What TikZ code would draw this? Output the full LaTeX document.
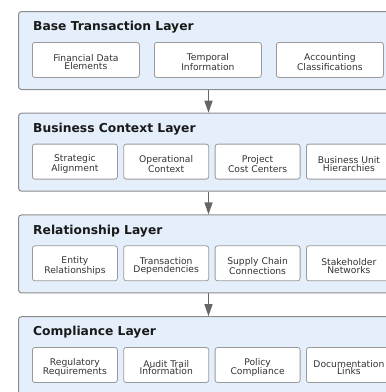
\documentclass[tikz,border=0pt]{standalone}
\usepackage{fontspec}
\setmainfont{DejaVu Sans}
\usepackage{xcolor}
\usetikzlibrary{arrows.meta}

\definecolor{layerfill}{HTML}{E4EFFB}
\definecolor{layerline}{HTML}{8C8C8C}
\definecolor{boxline}{HTML}{9A9A9A}
\definecolor{boxtext}{HTML}{333333}
\definecolor{flowgray}{HTML}{666666}

\tikzset{
  layer/.style={draw=layerline, fill=layerfill, line width=1pt, rounded corners=3pt,
    anchor=north west, minimum width=380pt, minimum height=78pt, inner sep=0pt},
  layertitle/.style={anchor=base west, inner sep=0pt, text=black!90,
    font=\fontsize{12.3}{13}\selectfont\bfseries},
  itemtext/.style={inner sep=0pt, align=center, text=boxtext, yshift=-2.5pt,
    font=\fontsize{9.2}{7.8}\selectfont},
  item/.style={draw=boxline, fill=white, line width=0.8pt, rounded corners=2.5pt,
    anchor=north west, minimum height=35pt, inner sep=0pt},
  wide/.style={item, minimum width=107pt, label={[itemtext]center:{#1}}},
  narrow/.style={item, minimum width=85pt, label={[itemtext]center:{#1}}},
  flow/.style={draw=flowgray, line width=1.5pt, -{Triangle[length=12pt,width=8pt]}}
}

\begin{document}
\begin{tikzpicture}[x=1pt, y=-1pt]
    \useasboundingbox (0,0) rectangle (386,392);
    \clip (0,0) rectangle (386,392);
    % layers
    \node[layer] (base) at (18,11) {};
    \node[layer] (context) at (18,112.7) {};
    \node[layer] (relation) at (18,214.4) {};
    \node[layer] (comply) at (18,316.1) {};
    \node[layertitle] (basetitle) at (33,30.8) {Base Transaction Layer};
    \node[layertitle] (contexttitle) at (33,132.5) {Business Context Layer};
    \node[layertitle] (relationtitle) at (33,234.2) {Relationship Layer};
    \node[layertitle] (complytitle) at (33,335.9) {Compliance Layer};
    % base transaction items
    \node[wide={Financial Data\\Elements}] (financial) at (32,42) {};
    \node[wide={Temporal\\Information}] (temporal) at (154,42) {};
    \node[wide={Accounting\\Classifications}] (accounting) at (276,42) {};
    % business context items
    \node[narrow={Strategic\\Alignment}] (strategic) at (32,143.7) {};
    \node[narrow={Operational\\Context}] (operational) at (123.3,143.7) {};
    \node[narrow={Project\\Cost Centers}] (project) at (214.7,143.7) {};
    \node[narrow={Business Unit\\Hierarchies}] (unit) at (306,143.7) {};
    % relationship items
    \node[narrow={Entity\\Relationships}] (entity) at (32,245.4) {};
    \node[narrow={Transaction\\Dependencies}] (dependency) at (123.3,245.4) {};
    \node[narrow={Supply Chain\\Connections}] (supply) at (214.7,245.4) {};
    \node[narrow={Stakeholder\\Networks}] (stakeholder) at (306,245.4) {};
    % compliance items
    \node[narrow={Regulatory\\Requirements}] (regulatory) at (32,347.1) {};
    \node[narrow={Audit Trail\\Information}] (audit) at (123.3,347.1) {};
    \node[narrow={Policy\\Compliance}] (policy) at (214.7,347.1) {};
    \node[narrow={Documentation\\Links}] (docs) at (306,347.1) {};
    % flow between layers
    \draw[flow] (base.south) -- (context.north);
    \draw[flow] (context.south) -- (relation.north);
    \draw[flow] (relation.south) -- (comply.north);
\end{tikzpicture}
\end{document}
